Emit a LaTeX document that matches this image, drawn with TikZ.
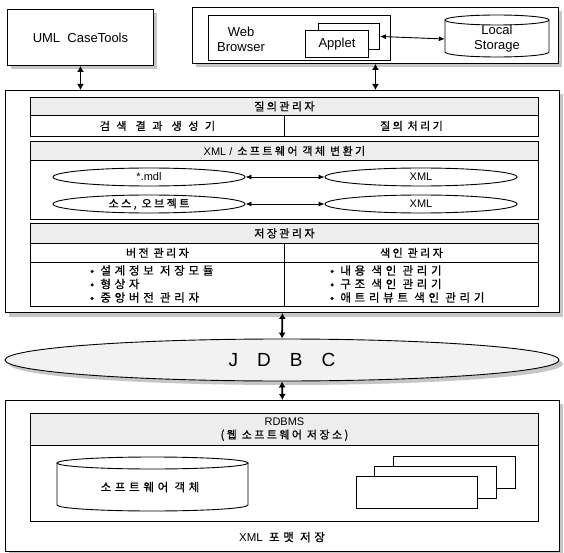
\documentclass[tikz,border=0pt]{standalone}
\usepackage{fontspec}
\setmainfont{Liberation Sans}
\newfontfamily\kr{Noto Sans CJK KR}[LetterSpace=22,FakeBold=0.8]
\newfontfamily\krl{Noto Sans CJK KR}[LetterSpace=32,FakeBold=0.8]
\newfontfamily\krw{Noto Sans CJK KR}[LetterSpace=60,FakeBold=0.8]
\usetikzlibrary{arrows.meta,shapes.geometric}
\begin{document}
\begin{tikzpicture}[x=1pt,y=-1pt,
  lw/.style={line width=0.9pt},
  bx/.style={draw, line width=0.9pt, fill=white, inner sep=0pt, anchor=north west},
  hd/.style={bx, fill=gray!14},
  shd/.style={fill=gray!45},
  dbl/.style={{Latex[length=6pt,width=7pt]}-{Latex[length=6pt,width=7pt]}, line width=1.8pt},
  dbls/.style={{Latex[length=6pt,width=5pt]}-{Latex[length=6pt,width=5pt]}, line width=0.9pt},
  lat/.style={font=\fontsize{13}{15}\selectfont, align=center},
  lats/.style={font=\fontsize{11}{13}\selectfont},
  ko/.style={font=\kr\fontsize{11}{13}\selectfont, align=center},
  kow/.style={font=\krw\fontsize{11}{13}\selectfont},
  txt/.style={inner sep=0pt},
]
\useasboundingbox (0,0) rectangle (564,553);
\fill[white] (0,0) rectangle (564,553);

% ---- top row
\fill[shd] (11,13) rectangle (157,69);
\node[bx, minimum width=146pt, minimum height=56pt, lat] (uml) at (7,9) {UML\ \ CaseTools};

\fill[shd] (196,11) rectangle (562,67);
\node[bx, minimum width=366pt, minimum height=56pt] (web) at (192,7) {};
\node[bx, minimum width=182pt, minimum height=45pt] (wb) at (208,15) {};
\node[txt, lat] (wbt) at (241,39) {Web\\Browser};
\node[bx, minimum width=61pt, minimum height=26pt] (ap2) at (318,23) {};
\node[bx, minimum width=63pt, minimum height=27pt, lat] (ap1) at (305,30) {Applet};

\draw[lw, fill=white] (445,20) -- (445,52) arc[start angle=180,end angle=0,x radius=52,y radius=5] -- (549,20);
\draw[lw] (497,20) ellipse [x radius=52, y radius=5];
\node[minimum width=104pt, minimum height=40pt, inner sep=0pt, lat] (ls) at (497,39) {Local\\Storage};
\draw[dbls] (ap2.east) -- (ls.west);

% ---- main block
\fill[shd] (9,94) rectangle (563,317);
\node[bx, minimum width=554pt, minimum height=222pt] (main) at (5,90) {};
\draw[dbl] (uml.south) -- (uml.south |- main.north);
\draw[dbl] (web.south) -- (web.south |- main.north);

\node[hd, minimum width=508pt, minimum height=18pt, ko] (q1) at (30,97) {질의관리자};
\node[bx, minimum width=254pt, minimum height=21pt, kow] (q2l) at (30,115) {검색 결과 생성기};
\node[bx, minimum width=254pt, minimum height=21pt, ko] (q2r) at (284,115) {질의 처리기};

\node[hd, minimum width=508pt, minimum height=19pt, ko] (x1) at (30,141) {{\rmfamily XML /} 소프트웨어 객체 변환기};
\node[bx, minimum width=508pt, minimum height=59pt] (x2) at (30,160) {};
\node[ellipse, draw, lw, inner sep=0pt, minimum width=192pt, minimum height=18pt, lats] (e1) at (149,177) {*.mdl};
\node[ellipse, draw, lw, inner sep=0pt, minimum width=192pt, minimum height=18pt, lats] (e2) at (421,177) {XML};
\node[ellipse, draw, lw, inner sep=0pt, minimum width=192pt, minimum height=18pt, ko] (e3) at (149,204) {소스, 오브젝트};
\node[ellipse, draw, lw, inner sep=0pt, minimum width=192pt, minimum height=18pt, lats] (e4) at (421,204) {XML};
\draw[dbls] (e1.east) -- (e2.west);
\draw[dbls] (e3.east) -- (e4.west);

\node[hd, minimum width=508pt, minimum height=20pt, ko] (s1) at (30,223) {저장관리자};
\node[bx, minimum width=254pt, minimum height=19pt, ko] (s2l) at (30,243) {버전 관리자};
\node[bx, minimum width=254pt, minimum height=19pt, ko] (s2r) at (284,243) {색인 관리자};
\node[bx, minimum width=254pt, minimum height=44pt] (s3l) at (30,262) {};
\node[bx, minimum width=254pt, minimum height=44pt] (s3r) at (284,262) {};
\node[txt, anchor=west, align=left, font=\krl\fontsize{11.5}{13.5}\selectfont] (ll) at (90,284) {• 설계정보 저장모듈\\• 형상자\\• 중앙버전 관리자};
\node[txt, anchor=west, align=left, font=\krl\fontsize{11.5}{13.5}\selectfont] (rl) at (330,284) {• 내용 색인 관리기\\• 구조 색인 관리기\\• 애트리뷰트 색인 관리기};

% ---- JDBC
\fill[gray!45] (286,364) ellipse [x radius=277, y radius=21];
\node[ellipse, draw, lw, fill=gray!10, inner sep=0pt, minimum width=554pt, minimum height=42pt, font=\fontsize{19}{21}\selectfont] (jdbc) at (282,360) {J\quad D\quad B\quad C};
\draw[dbl] (main.south) -- (jdbc.north);

% ---- bottom block
\fill[shd] (9,404) rectangle (563,555);
\node[bx, minimum width=554pt, minimum height=151pt] (bot) at (5,400) {};
\draw[dbl] (jdbc.south) -- (bot.north);
\node[hd, minimum width=508pt, minimum height=32pt, font=\kr\fontsize{11}{13}\selectfont, align=center] (r1) at (30,413) {{\rmfamily RDBMS}\\(웹 소프트웨어 저장소)};
\node[bx, minimum width=508pt, minimum height=76pt] (r2) at (30,445) {};
\draw[lw, fill=white] (57,463) -- (57,505) arc[start angle=180,end angle=0,x radius=95.5,y radius=6] -- (248,463);
\draw[lw] (152.5,463) ellipse [x radius=95.5, y radius=6];
\node[txt, font=\krl\fontsize{11.5}{13}\selectfont] (cyl) at (150,487) {소프트웨어 객체};
\node[bx, minimum width=122pt, minimum height=32pt] (b3) at (393,456) {};
\node[bx, minimum width=122pt, minimum height=32pt] (b2) at (374,466) {};
\node[bx, minimum width=121pt, minimum height=32pt] (b1) at (356,476) {};
\node[txt, font=\krl\fontsize{11.5}{13}\selectfont] (xs) at (282,537) {{\rmfamily XML} 포맷 저장};
\end{tikzpicture}
\end{document}
